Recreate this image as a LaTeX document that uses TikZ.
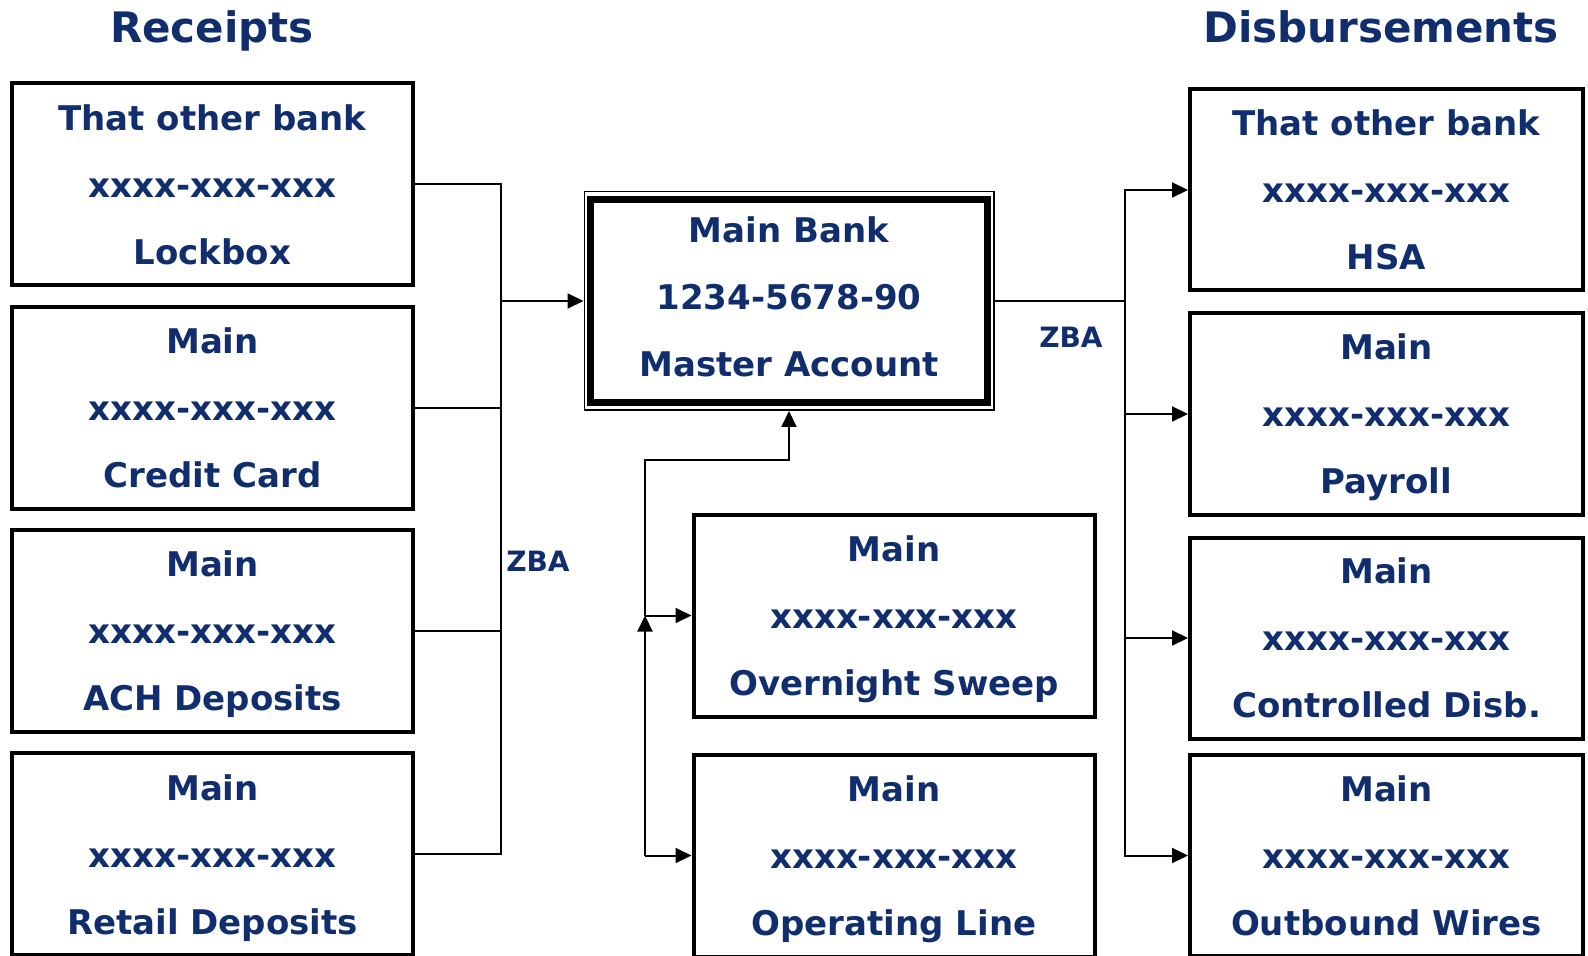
\documentclass[tikz,border=0pt]{standalone}
\usepackage{fontspec}
\setmainfont{DejaVu Sans}
\usetikzlibrary{arrows.meta,positioning}
\definecolor{acctblue}{RGB}{16,46,110}

\begin{document}
\begin{tikzpicture}[x=0.5pt,y=-0.5pt,node distance=111.6pt,>={Triangle[length=8pt,width=7.5pt]}]
\tikzstyle{acct}=[shape=rectangle,draw,line width=2pt,minimum width=200.5pt,minimum height=101pt,inner sep=0pt,align=center,text depth=0pt,text=acctblue,font=\bfseries\fontsize{17}{33.5}\selectfont]
\tikzstyle{dacct}=[acct,minimum width=196.5pt,minimum height=100.5pt]
\tikzstyle{heading}=[text depth=0pt,text=acctblue,font=\bfseries\fontsize{21}{25}\selectfont]
\tikzstyle{zba}=[text=acctblue,font=\bfseries\fontsize{14}{17}\selectfont]
\tikzstyle{link}=[line width=1pt]

\useasboundingbox (0,0) rectangle (1588,956);

\node[heading] (rechead) at (212,26.5) {Receipts};
\node[heading] (dishead) at (1381,26.5) {Disbursements};

\node[acct] (r1) at (212.5,184.5) {That other bank\\xxxx-xxx-xxx\\Lockbox};
\node[acct, below of = r1] (r2) {Main\\xxxx-xxx-xxx\\Credit Card};
\node[acct, below of = r2] (r3) {Main\\xxxx-xxx-xxx\\ACH Deposits};
\node[acct, below of = r3] (r4) {Main\\xxxx-xxx-xxx\\Retail Deposits};

\node[acct, line width=3.5pt, minimum width=198.25pt, minimum height=101.75pt, text depth=4pt] (master) at (789,301) {Main Bank\\1234-5678-90\\Master Account};
\node[draw, line width=0.75pt, minimum width=204.75pt, minimum height=109.25pt, inner sep=0pt] (mframe) at (master) {};

\node[acct] (sweep) at (894,615.5) {Main\\xxxx-xxx-xxx\\Overnight Sweep};
\node[acct, node distance=120pt, below of = sweep] (opline) {Main\\xxxx-xxx-xxx\\Operating Line};

\node[dacct] (d1) at (1386.5,190) {That other bank\\xxxx-xxx-xxx\\HSA};
\node[dacct, node distance=112pt, below of = d1] (d2) {Main\\xxxx-xxx-xxx\\Payroll};
\node[dacct, node distance=112pt, below of = d2] (d3) {Main\\xxxx-xxx-xxx\\Controlled Disb.};
\node[dacct, node distance=108.75pt, below of = d3] (d4) {Main\\xxxx-xxx-xxx\\Outbound Wires};

\node[zba] (lzba) at (538,561) {ZBA};
\node[zba] (rzba) at (1071,337) {ZBA};

% receipts sweep into the master account
\coordinate (lbus) at (501,301);
\draw[link] (r1.east) -| (lbus);
\draw[link] (r2.east) -| (lbus);
\draw[link] (r3.east) -| (lbus);
\draw[link] (r4.east) -| (lbus);
\draw[link,->] (lbus) -- (mframe.west);

% master funds the disbursement accounts
\coordinate (rbus) at (1125,301);
\draw[link] (mframe.east) -- (rbus);
\draw[link,->] (rbus) |- (d1.west);
\draw[link,->] (rbus) |- (d2.west);
\draw[link,->] (rbus) |- (d3.west);
\draw[link,->] (rbus) |- (d4.west);

% sweep and line of credit
\coordinate (mj1) at (645,615.5);
\coordinate (mj2) at (645,855.5);
\coordinate (mbend) at (789,460);
\draw[link,->] (mj1) |- (mbend) -- (mframe.south);
\draw[link,->] (mj1) -- (sweep.west);
\draw[link,->] (mj2) -- (mj1);
\draw[link,->] (mj2) -- (opline.west);
\end{tikzpicture}
\end{document}
